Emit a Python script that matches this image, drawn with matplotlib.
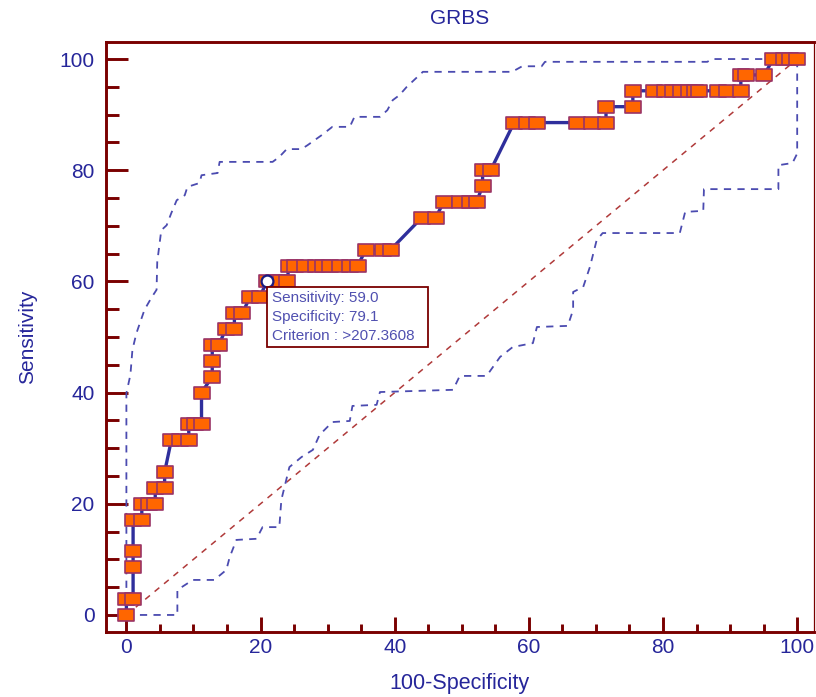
import matplotlib
matplotlib.use("Agg")
import matplotlib.pyplot as plt
from matplotlib.path import Path
from matplotlib.patches import Rectangle
from matplotlib.ticker import MultipleLocator

plt.rcParams['font.family'] = ['Liberation Sans', 'DejaVu Sans']

title = "GRBS"
x_label = "100-Specificity"
y_label = "Sensitivity"
tick_values = [0, 20, 40, 60, 80, 100]

# ROC curve points (100-Specificity, Sensitivity)
roc_x = [0, 0, 1.0, 1.0, 1.0, 1.0, 2.3, 2.3, 3.3, 4.3, 4.3, 5.7, 5.7,
         6.7, 8.0, 9.3, 9.3, 10.2, 11.2, 11.2, 12.8, 12.8, 12.8, 13.8,
         14.8, 16.1, 16.1, 17.3, 18.4, 19.9,
         20.9, 22.0, 23.0, 24.0,
         24.2, 25.2, 26.6, 28.2, 29.3, 30.4, 31.8, 33.3, 34.5,
         35.7, 38.2, 39.4, 44.0, 46.1,
         47.3, 49.7, 51.2, 52.2, 53.1, 53.1, 54.3,
         57.8, 59.7, 61.2, 67.2, 69.4, 71.5,
         71.5, 75.5,
         75.5, 78.7, 80.3, 81.5, 82.7, 83.9, 84.8, 85.4, 88.2, 89.6, 91.6,
         91.6, 92.4, 95.1,
         96.4, 98.1, 99.0, 100]
roc_y = [0, 2.86, 2.86, 8.57, 11.43, 17.14, 17.14, 20.0, 20.0, 20.0, 22.86, 22.86, 25.71,
         31.43, 31.43, 31.43, 34.29, 34.29, 34.29, 40.0, 42.86, 45.71, 48.57, 48.57,
         51.43, 51.43, 54.29, 54.29, 57.14, 57.14,
         60.0, 60.0, 60.0, 60.0,
         62.86, 62.86, 62.86, 62.86, 62.86, 62.86, 62.86, 62.86, 62.86,
         65.71, 65.71, 65.71, 71.43, 71.43,
         74.29, 74.29, 74.29, 74.29, 77.14, 80.0, 80.0,
         88.57, 88.57, 88.57, 88.57, 88.57, 88.57,
         91.43, 91.43,
         94.29, 94.29, 94.29, 94.29, 94.29, 94.29, 94.29, 94.29, 94.29, 94.29, 94.29,
         97.14, 97.14, 97.14,
         100, 100, 100, 100]

# Upper 95% confidence bound
upper_x = [0, 0, 0.6, 0.9, 1.5, 2.7, 3.7, 4.5, 4.6, 5.2, 6.0, 6.7, 7.5, 8.7, 9.1,
           10.9, 11.2, 13.6, 13.9, 21.8, 22.8, 23.9, 26.1, 27.0, 29.1, 30.7, 33.3,
           34.0, 37.8, 38.9, 39.7, 40.7, 41.8, 44.2, 57.5, 59.0, 61.9, 62.4, 86.6,
           87.3, 100]
upper_y = [0, 39.9, 43.2, 47.7, 50.7, 54.9, 57.0, 58.5, 63.5, 69.2, 70.1, 72.3, 74.6,
           75.5, 77.0, 77.7, 79.1, 79.5, 81.5, 81.5, 82.4, 83.8, 83.8, 84.5, 86.3,
           87.8, 87.8, 89.6, 89.6, 90.8, 92.6, 93.5, 95.0, 97.7, 97.7, 98.7, 98.7,
           99.5, 99.5, 100, 100]

# Lower 95% confidence bound
lower_x = [0, 7.6, 7.6, 9.9, 13.1, 14.9, 15.4, 16.4, 19.4, 20.3, 22.8, 23.1, 24.3,
           26.1, 27.8, 28.8, 30.7, 33.3, 33.7, 37.3, 37.8, 48.7, 49.7, 53.7, 55.7,
           57.6, 60.6, 61.2, 65.8, 66.6, 66.6, 68.1, 69.1, 70.1, 71.0, 82.5, 83.3,
           86.0, 86.1, 97.2, 97.2, 99.3, 100, 100]
lower_y = [0, 0, 4.5, 6.3, 6.3, 8.1, 10.4, 13.5, 13.7, 15.8, 15.8, 20.7, 26.6,
           28.4, 29.7, 32.4, 34.7, 34.9, 37.6, 37.8, 40.1, 40.5, 43.0, 43.0, 46.4,
           48.2, 48.9, 51.8, 52.0, 54.9, 58.1, 59.0, 62.6, 67.4, 68.7, 68.7, 72.5,
           72.7, 76.6, 76.6, 80.9, 81.3, 83.0, 100]

# Selected criterion
sel_x = [20.9]
sel_y = [60.0]
tooltip_lines = ["Sensitivity: 59.0", "Specificity: 79.1", "Criterion : >207.3608"]

spine_col = '#7a0000'
text_col = '#26269a'

fig = plt.figure(figsize=(8.16, 6.97), dpi=100)
ax = fig.add_axes([0.1294, 0.0933, 0.9975 - 0.1294, 0.9397 - 0.0933])
ax.set_xlim(-3.1, 102.5)
ax.set_ylim(-3.06, 103.06)

# diagonal reference line
ax.plot([0, 100], [0, 100], color='#b03a3a', lw=1.1, ls=(0, (4, 4)), zorder=2)
# confidence bands
ax.plot(upper_x, upper_y, color='#4b4bb0', lw=1.3, ls=(0, (4, 3.5)), zorder=2)
ax.plot(lower_x, lower_y, color='#4b4bb0', lw=1.3, ls=(0, (4, 3.5)), zorder=2)

# ROC curve
rect = Path([(-1.25, -1), (1.25, -1), (1.25, 1), (-1.25, 1), (-1.25, -1)],
            [Path.MOVETO, Path.LINETO, Path.LINETO, Path.LINETO, Path.CLOSEPOLY])
ax.plot(roc_x, roc_y, color='#2f2f9c', lw=2.4, zorder=3)
ax.plot(roc_x, roc_y, ls='none', marker=rect, markersize=11,
        markerfacecolor='#ff6600', markeredgecolor='#9a3366', markeredgewidth=1.2, zorder=4)
ax.plot(sel_x, sel_y, ls='none', marker='o', markersize=8.5,
        markerfacecolor='white', markeredgecolor='#1a1a80', markeredgewidth=1.6, zorder=5)

# tooltip box
ax.add_patch(Rectangle((21.0, 48.2), 24.0, 10.8, facecolor='white',
                       edgecolor='#7a0000', lw=1.3, zorder=6))
for i, line in enumerate(tooltip_lines):
    ax.text(21.7, 57.1 - i * 3.45, line, fontsize=11, color='#5050b0',
            va='center', ha='left', zorder=7)

# spines
for side in ['left', 'bottom', 'top']:
    ax.spines[side].set_color(spine_col)
    ax.spines[side].set_linewidth(2.1)
ax.spines['right'].set_color(spine_col)
ax.spines['right'].set_linewidth(0.9)

ax.set_xticks(tick_values)
ax.set_yticks(tick_values)
ax.xaxis.set_minor_locator(MultipleLocator(5))
ax.yaxis.set_minor_locator(MultipleLocator(5))
ax.tick_params(axis='x', which='major', direction='in', length=10.5, width=2.1,
               color=spine_col, labelsize=15, labelcolor=text_col, pad=4, top=False)
ax.tick_params(axis='x', which='minor', direction='in', length=5.5, width=2.1,
               color=spine_col, top=False)
ax.tick_params(axis='y', which='major', direction='in', length=16, width=2.1,
               color=spine_col, labelsize=15, labelcolor=text_col, pad=8, right=False)
ax.tick_params(axis='y', which='minor', direction='in', length=9.5, width=2.1,
               color=spine_col, right=False)

ax.set_title(title, fontsize=15, color=text_col, pad=13)
ax.set_xlabel(x_label, fontsize=15.5, color=text_col, labelpad=12)
ax.set_ylabel(y_label, fontsize=15, color=text_col, labelpad=16)

fig.savefig("out.png", dpi=100)
